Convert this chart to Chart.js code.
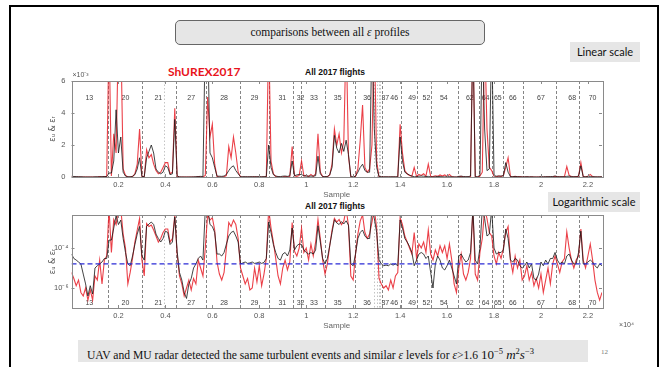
<!DOCTYPE html>
<html>
<head>
<meta charset="utf-8">
<script src="https://cdn.jsdelivr.net/npm/chart.js@4.4.1/dist/chart.umd.min.js"></script>
<style>
  body { margin: 0; width: 667px; height: 367px; overflow: hidden; background: #fff; position: relative; font-family: Lato, "Liberation Sans", sans-serif; }
  #frame { position: absolute; left: 9px; top: 5px; width: 650px; height: 380px; border: 2px solid #000; box-sizing: border-box; }
  .box { position: absolute; background: #e6e6e6; white-space: nowrap; }
  #title { left: 175px; top: 20px; width: 310px; height: 25px; border: 1px solid #666; border-radius: 5px; box-sizing: border-box;
           font: 11.5px "Liberation Serif", serif; text-align: center; line-height: 23px; color: #111; }
  #lin { left: 570px; top: 42px; width: 70px; height: 20px; font-size: 11px; line-height: 20px; text-align: center; color: #111; }
  #log { left: 548px; top: 192px; width: 92px; height: 20px; font-size: 11px; line-height: 20px; text-align: center; color: #111; }
  #shurex { position: absolute; left: 168px; top: 64px; color: #e8141c; font: bold 12px Lato, sans-serif; }
  .flights { position: absolute; font: bold 8.5px "Liberation Sans", sans-serif; color: #111; }
  #caption { left: 78px; top: 340px; width: 510px; height: 22px; font: 11.6px "Liberation Serif", serif; line-height: 22px; padding-left: 9px; box-sizing: border-box; color: #111; }
  #caption .big { font-size: 13px; }
  #caption sup { font-size: 8.5px; }
  #page { position: absolute; left: 601px; top: 348px; font: 7px "Liberation Serif", serif; color: #777; }
  canvas { position: absolute; left: 0; }
</style>
</head>
<body>
<div id="frame"></div>
<div class="box" id="title">comparisons between all <i>ε</i> profiles</div>
<div class="box" id="lin">Linear scale</div>
<div class="box" id="log">Logarithmic scale</div>
<div id="shurex">ShUREX2017</div>
<div class="flights" style="left:305px;top:67px">All 2017 flights</div>
<div class="flights" style="left:305px;top:201px">All 2017 flights</div>
<canvas id="linChart" width="667" height="140" style="top:60px"></canvas>
<canvas id="logChart" width="667" height="131" style="top:200px"></canvas>
<div class="box" id="caption">UAV and MU radar detected the same turbulent events and similar <i>ε</i> levels for <i>ε</i>&gt;1.6 <span class="big">10<sup>−5</sup> <i>m</i><sup>2</sup><i>s</i><sup>−3</sup></span></div>
<div id="page">12</div>

<script>
// one value every 100 samples, sample 0 .. 22600
const sampleStep = 100;

// MU radar (red)
const redEps = [
  6e-6, 3e-6, 1.3e-6, 2.5e-6, 6e-7, 4e-7, 1e-6, 2.5e-7, 8e-7, 2.5e-7,
  4e-6, 2.5e-6, 2.5e-5, 1.6e-6, 2.5e-5, 4e-5, 9e-3, 6e-5, 2.7e-3, 1.5e-3,
  9e-3, 9e-3, 5e-4, 1e-4, 1.6e-6, 6e-6, 3e-5, 2e-4, 8e-4, 3e-3,
  2.5e-5, 4e-6, 1.7e-3, 1.2e-3, 1.4e-3, 8e-4, 4e-4, 2e-4, 3e-4, 6e-4,
  9e-4, 9e-4, 2e-4, 3e-4, 4.3e-3, 5e-5, 4e-6, 1.6e-6, 4e-7, 1e-6,
  2.5e-6, 8e-7, 3e-6, 1.6e-6, 2.5e-5, 1e-5, 4e-6, 1e-4, 5e-3, 2.5e-3,
  3.3e-3, 8e-4, 2e-5, 5e-6, 2.5e-6, 6e-6, 1e-4, 1.9e-3, 1.2e-3, 2.5e-3,
  1.5e-3, 3e-4, 1e-5, 4e-6, 1.6e-6, 3e-6, 8e-7, 1e-6, 1e-5, 2e-6,
  1.3e-5, 1.3e-6, 5e-6, 3e-5, 9e-3, 1e-3, 2e-4, 3e-5, 4e-6, 1.6e-6,
  1e-5, 2.5e-5, 8e-6, 2e-5, 1.9e-3, 7e-5, 4e-5, 1e-4, 1e-3, 6e-5,
  1e-4, 2.5e-5, 1.6e-4, 4e-5, 2e-4, 2.7e-3, 3e-4, 2.5e-5, 5e-6, 1.6e-5,
  1.3e-4, 8e-4, 3e-3, 2e-3, 2.7e-3, 1.5e-3, 2.2e-3, 9e-3, 1.3e-3, 4e-6,
  2.5e-6, 5e-5, 5e-4, 2.3e-3, 4.5e-3, 6e-4, 3e-4, 5e-4, 2e-3, 9e-3,
  1e-3, 3e-6, 1.6e-6, 1e-6, 1.3e-6, 8e-7, 2.5e-6, 1e-6, 4e-6, 6e-6,
  3.3e-3, 1.5e-3, 4e-4, 2e-4, 1e-4, 5e-5, 6e-4, 3e-5, 1.6e-4, 1e-4,
  2e-4, 6e-5, 8e-4, 5e-5, 2.5e-5, 8e-5, 4e-5, 1.3e-4, 6e-5, 1.3e-4,
  3e-5, 1.6e-4, 2.5e-5, 1.6e-6, 6e-7, 1e-5, 5e-5, 5e-6, 2.5e-6, 6e-6,
  3e-5, 9e-3, 5e-6, 2.5e-6, 6e-5, 3e-4, 9e-3, 3e-3, 6e-4, 4e-4,
  4e-5, 1.6e-5, 6e-5, 3e-5, 1e-4, 6e-4, 1.2e-3, 2.5e-5, 6e-6, 4e-5,
  1e-5, 2.5e-5, 2.5e-6, 4e-6, 1.3e-5, 2.5e-6, 6e-6, 1.3e-6, 3e-6, 1e-6,
  5e-6, 6e-7, 2.5e-6, 1e-5, 1.6e-6, 1.6e-5, 4e-5, 1.6e-5, 6e-6, 2e-5,
  3e-5, 6.5e-4, 1e-4, 2.5e-5, 1e-5, 2.5e-5, 4e-5, 9e-4, 2.5e-5, 1e-5,
  4e-5, 1.6e-4, 2.5e-5, 2.5e-6, 6e-7, 2.5e-7, 6e-7
];

// UAV (black)
const blackEps = [
  5e-5, 3e-5, 2.5e-5, 2e-5, 1.6e-5, 5e-6, 1.6e-6, 4e-7, 1.3e-6, 5e-7,
  1e-5, 1.3e-5, 1.6e-5, 2e-5, 3e-5, 3e-5, 2.5e-4, 2.5e-4, 1e-3, 4.2e-3,
  1.5e-3, 2.5e-3, 3e-4, 6e-5, 1.6e-5, 1.3e-5, 4e-5, 1.5e-4, 5e-4, 1.2e-3,
  4e-5, 2.5e-5, 1.2e-3, 1.6e-3, 2e-3, 1.5e-3, 5e-4, 3e-4, 2e-4, 3e-4,
  7e-4, 6e-4, 1.5e-4, 2e-4, 3.6e-3, 7e-5, 6e-6, 2.5e-6, 6e-7, 3e-7,
  1.6e-6, 3e-6, 1e-5, 1.6e-5, 3e-5, 4e-5, 2.5e-5, 9e-3, 9e-3, 1.5e-3,
  1.2e-3, 6e-4, 5e-5, 5e-5, 4e-5, 6e-5, 1.6e-4, 4e-4, 6e-4, 7e-4,
  4e-4, 2e-4, 1.6e-5, 1.8e-5, 2e-5, 1.7e-5, 1.8e-5, 2e-5, 1.7e-5, 1.8e-5,
  2e-5, 1.7e-5, 1.9e-5, 3e-5, 2e-3, 6e-4, 1.5e-4, 6e-5, 3e-5, 2.5e-5,
  5e-5, 6e-5, 4e-5, 8e-5, 1e-3, 8e-5, 1.3e-4, 1.6e-4, 1.5e-4, 8e-5,
  6e-5, 5e-5, 6e-5, 5e-5, 8e-5, 1.3e-3, 2e-4, 3e-5, 1.6e-5, 3e-5,
  1.3e-4, 6e-4, 2.6e-3, 1.8e-3, 1.5e-3, 2.1e-3, 1.6e-3, 2.3e-3, 1.4e-3, 1.6e-5,
  1.3e-5, 5e-5, 3e-4, 6e-4, 8e-4, 4e-4, 3e-4, 3e-4, 9e-3, 3e-3,
  6e-4, 2.5e-5, 1.6e-5, 1.3e-5, 1.4e-5, 1.3e-5, 1.6e-5, 1.4e-5, 1.6e-5, 1.3e-5,
  2.5e-3, 1e-3, 3e-4, 2e-4, 1.2e-4, 6e-5, 1.3e-5, 2.5e-5, 5e-5, 6e-5,
  5e-5, 3e-5, 4e-5, 6e-6, 1e-6, 1.6e-5, 4e-5, 2.5e-5, 1e-5, 8e-6,
  1.3e-5, 2.5e-5, 1e-5, 4e-6, 1.6e-6, 4e-5, 5e-5, 3e-5, 2e-5, 2.5e-5,
  6e-5, 9e-3, 2.5e-5, 1.6e-5, 1e-4, 9e-3, 3e-3, 4e-4, 5e-4, 9e-3,
  1e-4, 5e-5, 6e-5, 6e-5, 8e-5, 9e-4, 3e-4, 2.5e-5, 2e-5, 3e-5,
  2.5e-5, 1.3e-5, 1e-5, 1.3e-5, 2e-5, 1e-5, 1.6e-5, 3e-6, 2.5e-6, 5e-6,
  2e-5, 1.3e-5, 2.5e-5, 1.6e-5, 3e-5, 3e-5, 6e-5, 2.5e-5, 1.6e-5, 2e-5,
  1.6e-5, 4e-5, 5e-5, 2.5e-5, 1.6e-5, 1.6e-5, 6e-5, 7e-4, 1.6e-5, 1.6e-5,
  2e-5, 2.5e-5, 2e-5, 1.3e-5, 1e-5, 1.6e-5, 1.3e-5
];

// flight boundaries (sample index) and flight numbers
const flightEdges = [1570, 2990, 4460, 5740, 7160, 8400, 9430, 9770, 10810, 12060, 13230, 14050,
                     14740, 15330, 16470, 17350, 17930, 18400, 19230, 20640, 21630];
const faintEdges = [3930, 12900, 13000, 13080, 13160];
const flightLabels = ['13', '20', '21', '27', '28', '29', '31', '32', '33', '35', '36', '37', '46',
                      '49', '52', '54', '62', '64', '65', '66', '67', '68', '70'];
const flightLabelPos = [760, 2300, 3700, 5100, 6500, 7800, 8980, 9760, 10330, 11340, 12590, 13370, 13750,
                        14510, 15120, 15860, 16970, 17640, 18160, 18800, 20000, 21330, 22200];

const xTicks = [2000, 4000, 6000, 8000, 10000, 12000, 14000, 16000, 18000, 20000, 22000];
const linTicks = [0, 2e-3, 4e-3, 6e-3];
const logTicks = [1e-6, 1e-4];
const epsThreshold = 1.6e-5;

const toPoints = arr => arr.map((v, i) => ({ x: i * sampleStep, y: v }));
const sup = { '-': '⁻', '0': '⁰', '1': '¹', '2': '²', '3': '³', '4': '⁴', '5': '⁵', '6': '⁶', '7': '⁷', '8': '⁸', '9': '⁹' };
const pow10 = v => '10' + String(Math.round(Math.log10(v))).split('').map(c => sup[c]).join('');

const tickFont = { family: 'Liberation Sans', size: 7.5 };

// dashed flight lines + flight numbers, axes box with inner ticks
const flightPlugin = {
  id: 'flights',
  beforeDatasetsDraw(chart, args, opts) {
    const { ctx, chartArea: a, scales: { x } } = chart;
    ctx.save();
    ctx.lineWidth = 1;
    const vline = v => {
      const px = Math.round(x.getPixelForValue(v)) + 0.5;
      ctx.beginPath(); ctx.moveTo(px, a.top); ctx.lineTo(px, a.bottom); ctx.stroke();
    };
    ctx.setLineDash([1.5, 2]);
    ctx.strokeStyle = '#c4c4c4';
    faintEdges.forEach(vline);
    ctx.setLineDash([3, 2]);
    ctx.strokeStyle = '#858585';
    flightEdges.forEach(vline);
    ctx.setLineDash([]);
    ctx.fillStyle = '#444';
    ctx.font = '7px "Liberation Sans"';
    ctx.textAlign = 'center';
    ctx.textBaseline = 'middle';
    const ly = opts.labelsAtTop ? a.top + 17 : a.bottom - 5;
    flightLabels.forEach((t, i) => ctx.fillText(t, x.getPixelForValue(flightLabelPos[i]), ly));
    ctx.restore();
  },
  afterDraw(chart, args, opts) {
    const { ctx, chartArea: a, scales: { x, y } } = chart;
    ctx.save();
    ctx.strokeStyle = '#8a8a8a';
    ctx.lineWidth = 1;
    ctx.strokeRect(Math.round(a.left) + 0.5, Math.round(a.top) + 0.5, Math.round(a.width), Math.round(a.height));
    ctx.beginPath();
    x.ticks.forEach(t => {
      const px = Math.round(x.getPixelForValue(t.value)) + 0.5;
      ctx.moveTo(px, a.bottom); ctx.lineTo(px, a.bottom - 3);
      ctx.moveTo(px, a.top); ctx.lineTo(px, a.top + 3);
    });
    y.ticks.forEach(t => {
      const py = Math.round(y.getPixelForValue(t.value)) + 0.5;
      ctx.moveTo(a.left, py); ctx.lineTo(a.left + 3, py);
      ctx.moveTo(a.right, py); ctx.lineTo(a.right - 3, py);
    });
    ctx.stroke();
    ctx.fillStyle = '#555';
    ctx.font = '7px "Liberation Sans"';
    if (opts.yExponent) {
      ctx.textAlign = 'left';
      ctx.fillText(opts.yExponent, a.left + 1, a.top - 4);
    }
    if (opts.xExponent) {
      ctx.textAlign = 'right';
      ctx.fillText(opts.xExponent, a.right + 32, a.bottom + 19);
    }
    ctx.restore();
  }
};

function makePanel(id, logScale) {
  const datasets = [
    { data: toPoints(blackEps), borderColor: 'rgba(25,25,25,0.9)', borderWidth: 0.9, order: 1 },
    { data: toPoints(redEps), borderColor: 'rgba(232,30,40,0.85)', borderWidth: 1.1, order: 2 }
  ];
  if (logScale) {
    datasets.unshift({ data: [{ x: 0, y: epsThreshold }, { x: 22600, y: epsThreshold }],
      borderColor: '#2b2bd6', borderWidth: 1.3, borderDash: [5, 3], order: 0 });
  }
  const yTitle = { display: true, text: 'εᵤ & εᵣ', color: '#555', font: { family: 'DejaVu Sans', size: 8 }, padding: 0 };
  return new Chart(document.getElementById(id), {
    type: 'line',
    data: { datasets },
    options: {
      responsive: false,
      animation: false,
      devicePixelRatio: 1,
      layout: { padding: { left: 48, right: 65, top: logScale ? 15 : 21, bottom: 0 } },
      elements: { point: { radius: 0 }, line: { tension: 0 } },
      plugins: {
        legend: { display: false },
        tooltip: { enabled: false },
        flights: { labelsAtTop: !logScale, yExponent: logScale ? '' : '×10⁻³', xExponent: logScale ? '×10⁴' : '' }
      },
      scales: {
        x: {
          type: 'linear', min: 0, max: 22600,
          afterBuildTicks: s => { s.ticks = xTicks.map(v => ({ value: v })); },
          afterFit: s => { s.height = 23; },
          grid: { display: false, drawTicks: false },
          border: { display: false },
          ticks: { color: '#555', font: tickFont, padding: 3, maxRotation: 0, autoSkip: false,
                   callback: v => String(v / 1e4) },
          title: { display: true, text: 'Sample', color: '#666', font: { family: 'Liberation Sans', size: 8 }, padding: 0 }
        },
        y: logScale ? {
          type: 'logarithmic', min: 1e-7, max: 4.5e-3,
          afterBuildTicks: s => { s.ticks = logTicks.map(v => ({ value: v })); },
          afterFit: s => { s.width = 23.5; },
          grid: { display: false, drawTicks: false },
          border: { display: false },
          ticks: { color: '#555', font: tickFont, padding: 3, callback: v => pow10(v) },
          title: yTitle
        } : {
          type: 'linear', min: 0, max: 6e-3,
          afterBuildTicks: s => { s.ticks = linTicks.map(v => ({ value: v })); },
          afterFit: s => { s.width = 23.5; },
          grid: { display: false, drawTicks: false },
          border: { display: false },
          ticks: { color: '#555', font: tickFont, padding: 6, callback: v => String(Math.round(v * 1000)) },
          title: yTitle
        }
      }
    },
    plugins: [flightPlugin]
  });
}

makePanel('linChart', false);
makePanel('logChart', true);
</script>
</body>
</html>
